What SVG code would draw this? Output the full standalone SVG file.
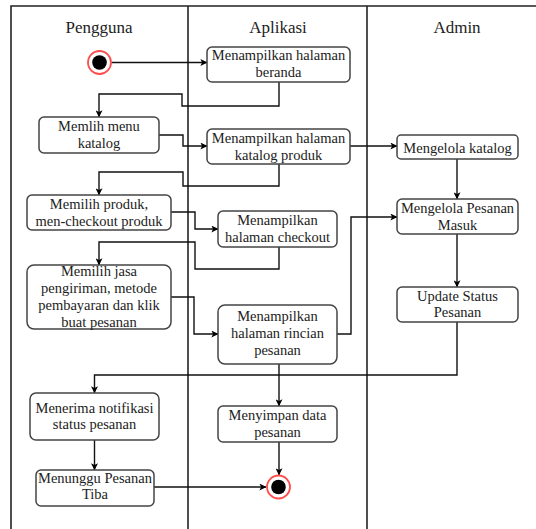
<svg xmlns="http://www.w3.org/2000/svg" width="536" height="529" viewBox="0 0 536 529">
<style>
.lane{stroke:#222;stroke-width:1.6;fill:none}
.title{font-size:17px;fill:#222;text-anchor:middle}
.box rect{fill:#fff;stroke:#444;stroke-width:1.5}
.box text{font-size:14.5px;fill:#222;text-anchor:middle}
.conn path{fill:none;stroke:#111;stroke-width:1.4;marker-end:url(#arr)}
.ring{fill:#fff;stroke:#ff4d4d;stroke-width:1.8}
.dot{fill:#000}
</style>
<defs>
<marker id="arr" viewBox="0 0 10 10" refX="9.5" refY="5" markerWidth="7" markerHeight="7" markerUnits="userSpaceOnUse" orient="auto">
<path d="M0,0 L10,5 L0,10 L2.5,5 Z" fill="#000"/>
</marker>
</defs>
<rect width="536" height="529" fill="#fff"/>
<g id="lanes" font-family="Liberation Serif, DejaVu Serif, serif">
<path class="lane" d="M11,529 V6 H536"/>
<path class="lane" d="M188,6 V529"/>
<path class="lane" d="M367,6 V529"/>
<text class="title" x="99" y="33">Pengguna</text>
<text class="title" x="278" y="33">Aplikasi</text>
<text class="title" x="457" y="33">Admin</text>
</g>
<g id="connectors" class="conn">
<path d="M111.5,62.5 H207"/>
<path d="M279,82 V106 H182 V94 H99 V117"/>
<path d="M159,135 H183 V146 H207"/>
<path d="M350,146 H397"/>
<path d="M279,164 V186 H183 V172 H99 V195"/>
<path d="M171,212 H195 V229 H218"/>
<path d="M279,247 V269 H195 V242 H99 V265"/>
<path d="M171,297 H194 V334 H218"/>
<path d="M337,334 H351 V217 H397"/>
<path d="M457,159 V199"/>
<path d="M457,234 V287"/>
<path d="M457,322 V375 H94.5 V393"/>
<path d="M279,364 V406"/>
<path d="M279,442 V475"/>
<path d="M94.5,440 V470"/>
<path d="M154,487 H266"/>
</g>
<g id="start">
<circle class="ring" cx="99.5" cy="62.5" r="11.5"/>
<circle class="dot" cx="99.5" cy="62.5" r="7.3"/>
</g>
<g font-family="Liberation Serif, DejaVu Serif, serif">
<g id="n1" class="box">
<rect x="207" y="47" width="143" height="35" rx="5"/>
<text x="278.5" y="60">Menampilkan halaman</text>
<text x="278.5" y="77">beranda</text>
</g>
<g id="n2" class="box">
<rect x="39" y="117" width="120" height="36" rx="5"/>
<text x="99" y="131">Memlih menu</text>
<text x="99" y="148">katalog</text>
</g>
<g id="n3" class="box">
<rect x="207" y="129" width="143" height="35" rx="5"/>
<text x="278.5" y="142.5">Menampilkan halaman</text>
<text x="278.5" y="159.5">katalog produk</text>
</g>
<g id="n4" class="box">
<rect x="397" y="135" width="121" height="24" rx="4"/>
<text x="457.5" y="152.5">Mengelola katalog</text>
</g>
<g id="n5" class="box">
<rect x="27" y="195" width="144" height="35" rx="5"/>
<text x="99" y="208.5">Memilih produk,</text>
<text x="99" y="225.5">men-checkout produk</text>
</g>
<g id="n6" class="box">
<rect x="218" y="211" width="119" height="36" rx="5"/>
<text x="277.5" y="225">Menampilkan</text>
<text x="277.5" y="242">halaman checkout</text>
</g>
<g id="n7" class="box">
<rect x="27" y="265" width="144" height="64" rx="7"/>
<text x="99" y="276">Memilih jasa</text>
<text x="99" y="293">pengiriman, metode</text>
<text x="99" y="310">pembayaran dan klik</text>
<text x="99" y="326.5">buat pesanan</text>
</g>
<g id="n8" class="box">
<rect x="218" y="305" width="119" height="59" rx="7"/>
<text x="277.5" y="321">Menampilkan</text>
<text x="277.5" y="338">halaman rincian</text>
<text x="277.5" y="355">pesanan</text>
</g>
<g id="n9" class="box">
<rect x="397" y="199" width="121" height="35" rx="5"/>
<text x="457.5" y="213">Mengelola Pesanan</text>
<text x="457.5" y="230">Masuk</text>
</g>
<g id="n10" class="box">
<rect x="397" y="287" width="121" height="35" rx="5"/>
<text x="457.5" y="300.5">Update Status</text>
<text x="457.5" y="317">Pesanan</text>
</g>
<g id="n11" class="box">
<rect x="30" y="393" width="129" height="47" rx="6"/>
<text x="94.5" y="412.5">Menerima notifikasi</text>
<text x="94.5" y="429">status pesanan</text>
</g>
<g id="n12" class="box">
<rect x="218" y="406" width="119" height="36" rx="5"/>
<text x="277.5" y="420">Menyimpan data</text>
<text x="277.5" y="436.5">pesanan</text>
</g>
<g id="n13" class="box">
<rect x="36" y="470" width="118" height="36" rx="5"/>
<text x="95" y="482.5">Menunggu Pesanan</text>
<text x="95" y="499">Tiba</text>
</g>
</g>
<g id="end">
<circle class="ring" cx="278.5" cy="487" r="11.5"/>
<circle class="dot" cx="278.5" cy="487" r="7.3"/>
</g>
</svg>
